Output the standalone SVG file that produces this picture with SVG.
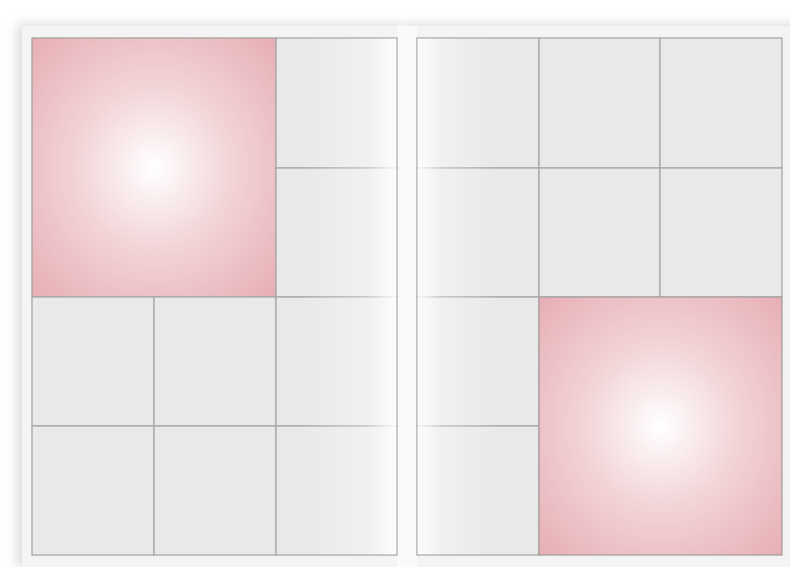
<svg xmlns="http://www.w3.org/2000/svg" width="790" height="567" viewBox="0 0 790 567">
<defs>
<radialGradient id="pink" cx="0.5" cy="0.5" r="0.72">
<stop offset="0" stop-color="#ffffff"/>
<stop offset="0.45" stop-color="#f2d3d6"/>
<stop offset="1" stop-color="#e6adb3"/>
</radialGradient>
<linearGradient id="spineL" x1="0" y1="0" x2="1" y2="0">
<stop offset="0" stop-color="#ffffff" stop-opacity="0"/>
<stop offset="0.7" stop-color="#ffffff" stop-opacity="0.35"/>
<stop offset="1" stop-color="#ffffff" stop-opacity="0.9"/>
</linearGradient>
<linearGradient id="spineR" x1="1" y1="0" x2="0" y2="0">
<stop offset="0" stop-color="#ffffff" stop-opacity="0"/>
<stop offset="0.7" stop-color="#ffffff" stop-opacity="0.35"/>
<stop offset="1" stop-color="#ffffff" stop-opacity="0.9"/>
</linearGradient>
<filter id="shadow" x="-10%" y="-10%" width="120%" height="120%">
<feGaussianBlur stdDeviation="6"/>
</filter>
<style>
.cell{fill:#e9e9e9;stroke:#a8a8a8;stroke-width:1.3}
.pink{fill:url(#pink);stroke:#a8a0a0;stroke-width:1.3}
.page{fill:#f4f4f4}
</style>
</defs>
<rect width="790" height="567" fill="#ffffff"/>
<g id="shadows" filter="url(#shadow)">
<rect x="18" y="24" width="384" height="544" fill="#d8d8d8"/>
<rect x="406" y="24" width="390" height="544" fill="#d8d8d8"/>
</g>
<g id="pages">
<rect class="page" x="22" y="26" width="386" height="541"/>
<rect class="page" x="406" y="26" width="384" height="541"/>
<rect x="397" y="26" width="20" height="541" fill="#fafafa"/>
</g>
<g id="left-page">
<g id="L-big"><rect class="pink" x="32" y="38" width="244" height="259"/></g>
<g id="L-r1c3"><rect class="cell" x="276" y="38" width="121" height="130"/></g>
<g id="L-r2c3"><rect class="cell" x="276" y="168" width="121" height="129"/></g>
<g id="L-r3c1"><rect class="cell" x="32" y="297" width="122" height="129"/></g>
<g id="L-r3c2"><rect class="cell" x="154" y="297" width="122" height="129"/></g>
<g id="L-r3c3"><rect class="cell" x="276" y="297" width="121" height="129"/></g>
<g id="L-r4c1"><rect class="cell" x="32" y="426" width="122" height="129"/></g>
<g id="L-r4c2"><rect class="cell" x="154" y="426" width="122" height="129"/></g>
<g id="L-r4c3"><rect class="cell" x="276" y="426" width="121" height="129"/></g>
<rect x="300" y="38.7" width="96.3" height="515.6" fill="url(#spineL)"/>
</g>
<g id="right-page">
<g id="R-r1c1"><rect class="cell" x="417" y="38" width="122" height="130"/></g>
<g id="R-r1c2"><rect class="cell" x="539" y="38" width="121" height="130"/></g>
<g id="R-r1c3"><rect class="cell" x="660" y="38" width="122" height="130"/></g>
<g id="R-r2c1"><rect class="cell" x="417" y="168" width="122" height="129"/></g>
<g id="R-r2c2"><rect class="cell" x="539" y="168" width="121" height="129"/></g>
<g id="R-r2c3"><rect class="cell" x="660" y="168" width="122" height="129"/></g>
<g id="R-r3c1"><rect class="cell" x="417" y="297" width="122" height="129"/></g>
<g id="R-r4c1"><rect class="cell" x="417" y="426" width="122" height="129"/></g>
<g id="R-big"><rect class="pink" x="539" y="297" width="243" height="258"/></g>
<rect x="417.7" y="38.7" width="80" height="515.6" fill="url(#spineR)"/>
</g>
</svg>
